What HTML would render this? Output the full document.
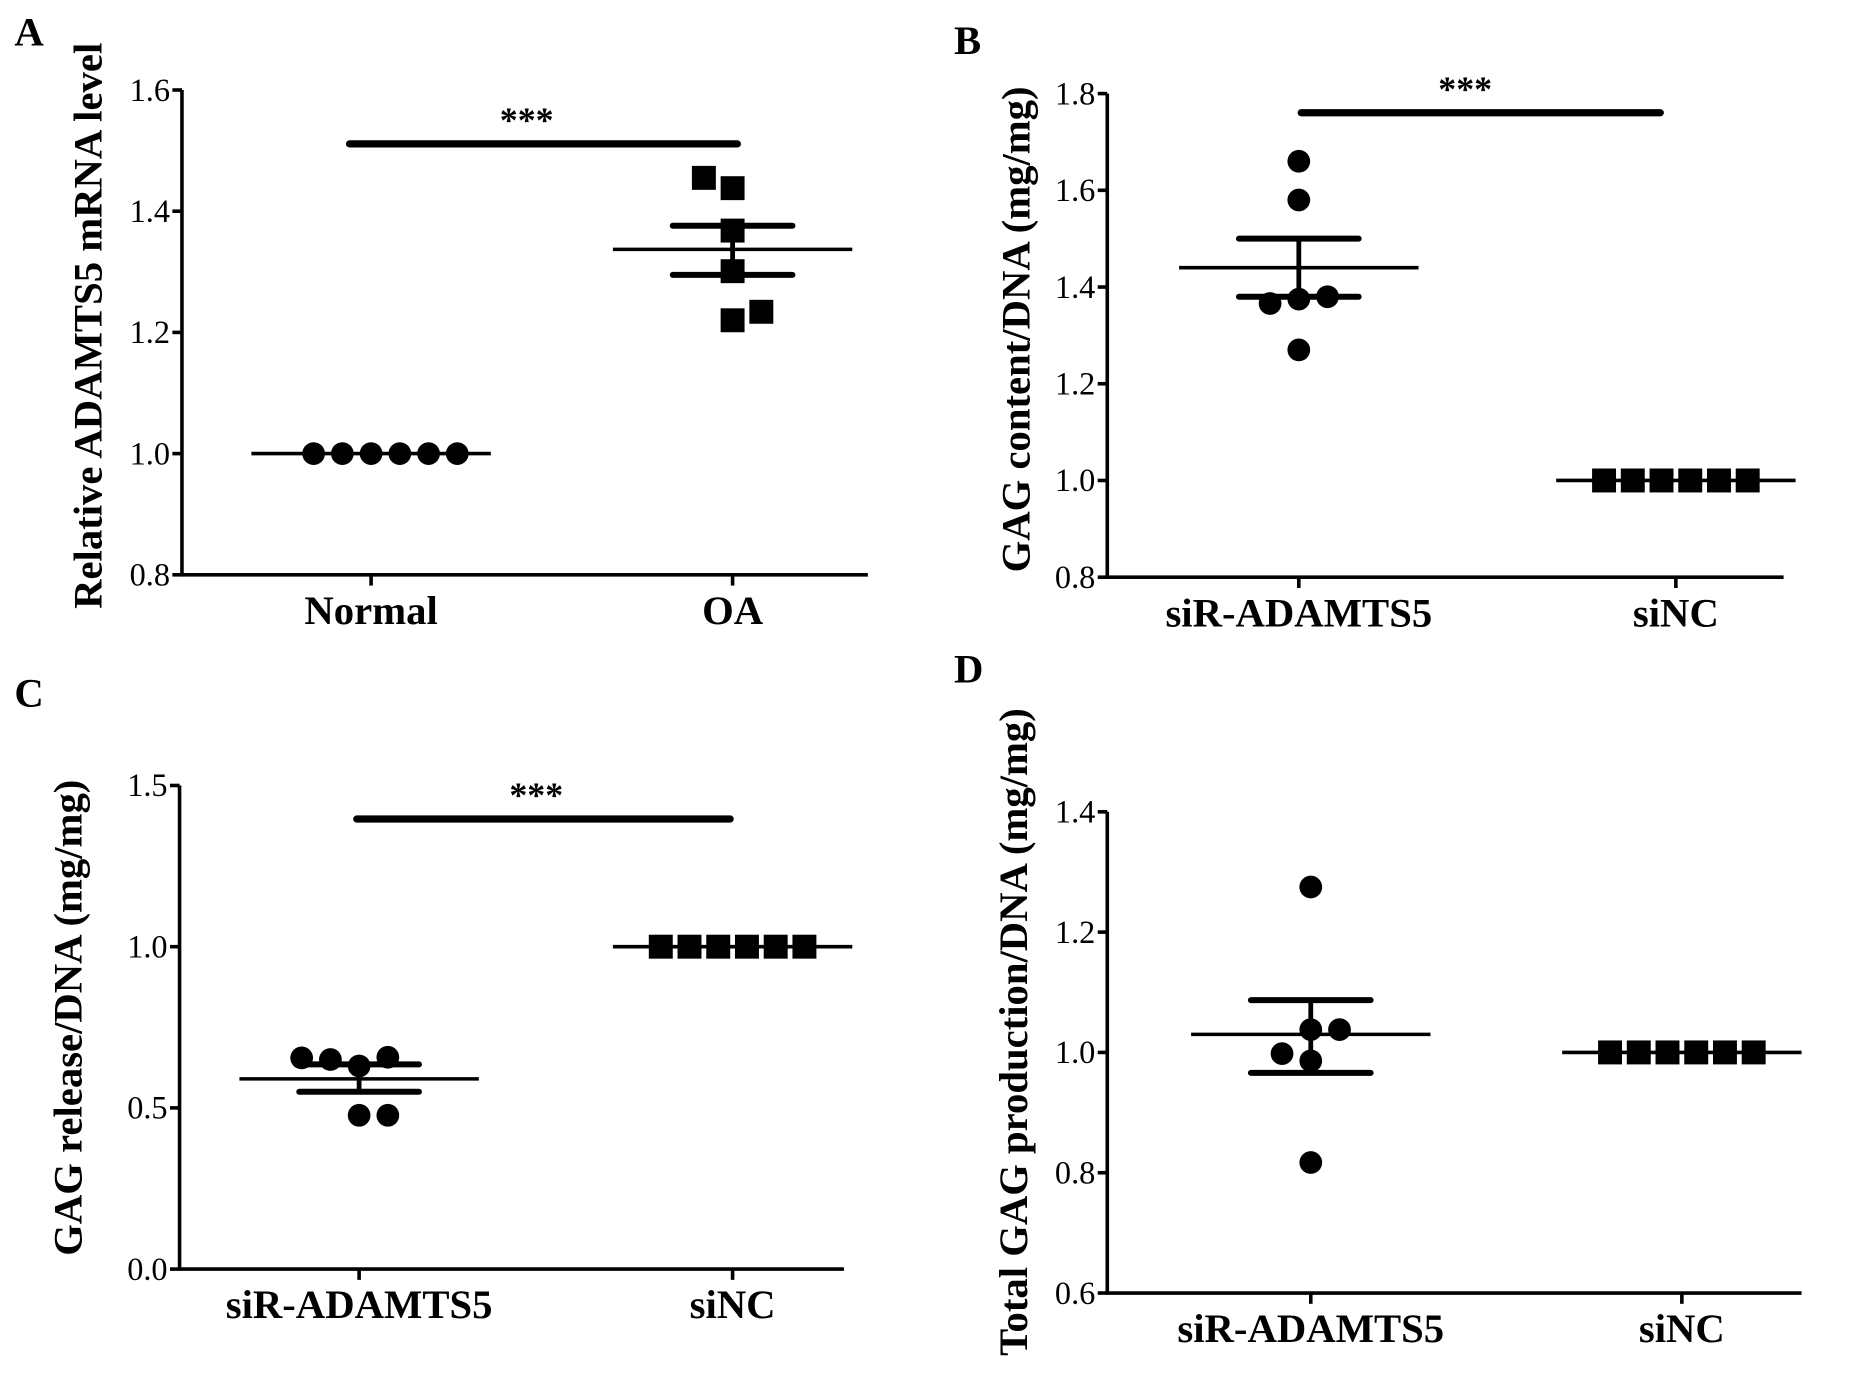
<!DOCTYPE html>
<html><head><meta charset="utf-8"><style>
html,body{margin:0;padding:0;background:#fff;}
svg{display:block;font-family:"Liberation Serif",serif;}
</style></head><body>
<svg id="fig" width="1871" height="1395" viewBox="0 0 1563 1165" xmlns="http://www.w3.org/2000/svg"></svg>
<script>
// Panel A
const catsA = ["Normal","OA"];
const ptsA0 = [1,1,1,1,1,1];
const ptsA1 = [1.455,1.438,1.368,1.301,1.220,1.234];
const statsA = [[1.0,1.0,1.0],[1.337,1.295,1.376]];
const ticksA = ["0.8","1.0","1.2","1.4","1.6"];
// Panel B
const catsB = ["siR-ADAMTS5","siNC"];
const ptsB0 = [1.66,1.58,1.366,1.375,1.38,1.27];
const ptsB1 = [1,1,1,1,1,1];
const statsB = [[1.44,1.38,1.50],[1.0,1.0,1.0]];
const ticksB = ["0.8","1.0","1.2","1.4","1.6","1.8"];
// Panel C
const catsC = ["siR-ADAMTS5","siNC"];
const ptsC0 = [0.655,0.65,0.63,0.657,0.477,0.477];
const ptsC1 = [1,1,1,1,1,1];
const statsC = [[0.59,0.55,0.635],[1.0,1.0,1.0]];
const ticksC = ["0.0","0.5","1.0","1.5"];
// Panel D
const catsD = ["siR-ADAMTS5","siNC"];
const ptsD0 = [1.275,0.998,1.038,1.038,0.986,0.817];
const ptsD1 = [1,1,1,1,1,1];
const statsD = [[1.03,0.966,1.087],[1.0,1.0,1.0]];
const ticksD = ["0.6","0.8","1.0","1.2","1.4"];

const NS="http://www.w3.org/2000/svg";
const svg=document.getElementById('fig');
function mk(tag,attrs,parent){const e=document.createElementNS(NS,tag);for(const k in attrs)e.setAttribute(k,attrs[k]);(parent||svg).appendChild(e);return e;}

function panel(cfg){
  const g=mk('g',{});
  
  
  const tmin=parseFloat(cfg.ticks[0]),tmax=parseFloat(cfg.ticks[cfg.ticks.length-1]);
  const y=v=>cfg.yB-(v-tmin)/(tmax-tmin)*(cfg.yB-cfg.yT);
  const ya=mk('line',{x1:cfg.x0,y1:cfg.yT,x2:cfg.x0,y2:cfg.yB+1,stroke:'#000','stroke-width':3},g);
  
  
  const xa=mk('line',{x1:cfg.x0-1,y1:cfg.yB,x2:cfg.x1,y2:cfg.yB,stroke:'#000','stroke-width':3},g);
  
  
  cfg.ticks.forEach(t=>{
    const v=parseFloat(t),yy=y(v);
    mk('line',{x1:cfg.x0-8,y1:yy,x2:cfg.x0,y2:yy,stroke:'#000','stroke-width':3},g);
    const tx=mk('text',{x:cfg.x0-10,y:yy+9,'text-anchor':'end','font-size':27},g);
    tx.textContent=t;
    
    
  });
  cfg.cats.forEach((c,i)=>{
    const cx=cfg.cx[i];
    mk('line',{x1:cx,y1:cfg.yB,x2:cx,y2:cfg.yB+9,stroke:'#000','stroke-width':3},g);
    const tx=mk('text',{x:cx,y:cfg.yB+41,'text-anchor':'middle','font-size':34,'font-weight':'bold'},g);
    tx.textContent=c;
    
    
  });
  const tt=mk('text',{x:cfg.titleX,y:cfg.titleY,'text-anchor':'middle','font-size':34,'font-weight':'bold',transform:`rotate(-90 ${cfg.titleX} ${cfg.titleY})`},g);
  tt.textContent=cfg.title;
  
  
  const lt=mk('text',{x:cfg.lx,y:cfg.ly,'font-size':34,'font-weight':'bold'},g);
  lt.textContent=cfg.letter;
  
  
  [cfg.p0,cfg.p1].forEach((pts,gi)=>{
    const cx=cfg.cx[gi],shape=cfg.shapes[gi],st=cfg.stats[gi];
    const offs=cfg.offs[gi];
    pts.forEach((v,k)=>{
      const px=cx+offs[k]*24,py=y(v);
      let m;
      if(shape==='c') m=mk('circle',{cx:px,cy:py,r:9.5,fill:'#000'},g);
      else m=mk('rect',{x:px-10,y:py-10,width:20,height:20,fill:'#000'},g);
      
      
    });
    const ml=mk('line',{x1:cx-100,y1:y(st[0]),x2:cx+100,y2:y(st[0]),stroke:'#000','stroke-width':3},g);
    
    
    if(st[1]!==st[2]){
      mk('line',{x1:cx,y1:y(st[1]),x2:cx,y2:y(st[2]),stroke:'#000','stroke-width':4},g);
      [st[1],st[2]].forEach(s=>{
        const e=mk('line',{x1:cx-50,y1:y(s),x2:cx+50,y2:y(s),stroke:'#000','stroke-width':5,'stroke-linecap':'round'},g);
        
        
      });
    }
  });
  if(cfg.sig){
    const s=mk('line',{x1:cfg.sig[0],y1:cfg.sig[2],x2:cfg.sig[1],y2:cfg.sig[2],stroke:'#000','stroke-width':6,'stroke-linecap':'round'},g);
    
    
    const a=mk('text',{x:(cfg.sig[0]+cfg.sig[1])/2+(cfg.sigdx||0),y:cfg.sig[2]-10,'text-anchor':'middle','font-size':30,'font-weight':'bold'},g);
    a.textContent='***';
    
    
  }
}
panel({letter:'A',lx:12,ly:38,x0:152,x1:725,yT:75,yB:480,ticks:ticksA,cats:catsA,cx:[310,612],
  p0:ptsA0,p1:ptsA1,stats:statsA,shapes:['c','s'],offs:[[-2,-1,0,1,2,3],[-1,0,0,0,0,1]],
  title:'Relative ADAMTS5 mRNA level',titleX:85,titleY:272,sig:[292,616,120],sigdx:-14});
panel({letter:'B',lx:797,ly:45,x0:925,x1:1490,yT:78,yB:482,ticks:ticksB,cats:catsB,cx:[1085,1400],
  p0:ptsB0,p1:ptsB1,stats:statsB,shapes:['c','s'],offs:[[0,0,-1,0,1,0],[-2.5,-1.5,-0.5,0.5,1.5,2.5]],
  title:'GAG content/DNA (mg/mg)',titleX:860,titleY:275,sig:[1087,1387,94],sigdx:-13});
panel({letter:'C',lx:12,ly:590,x0:150,x1:705,yT:656,yB:1060,ticks:ticksC,cats:catsC,cx:[300,612],
  p0:ptsC0,p1:ptsC1,stats:statsC,shapes:['c','s'],offs:[[-2,-1,0,1,0,1],[-2.5,-1.5,-0.5,0.5,1.5,2.5]],
  title:'GAG release/DNA (mg/mg)',titleX:68,titleY:850,sig:[298,610,684],sigdx:-6});
panel({letter:'D',lx:797,ly:570,x0:925,x1:1505,yT:678,yB:1080,ticks:ticksD,cats:catsD,cx:[1095,1405],
  p0:ptsD0,p1:ptsD1,stats:statsD,shapes:['c','s'],offs:[[0,-1,0,1,0,0],[-2.5,-1.5,-0.5,0.5,1.5,2.5]],
  title:'Total GAG production/DNA (mg/mg)',titleX:858,titleY:862});
</script>
</body></html>
